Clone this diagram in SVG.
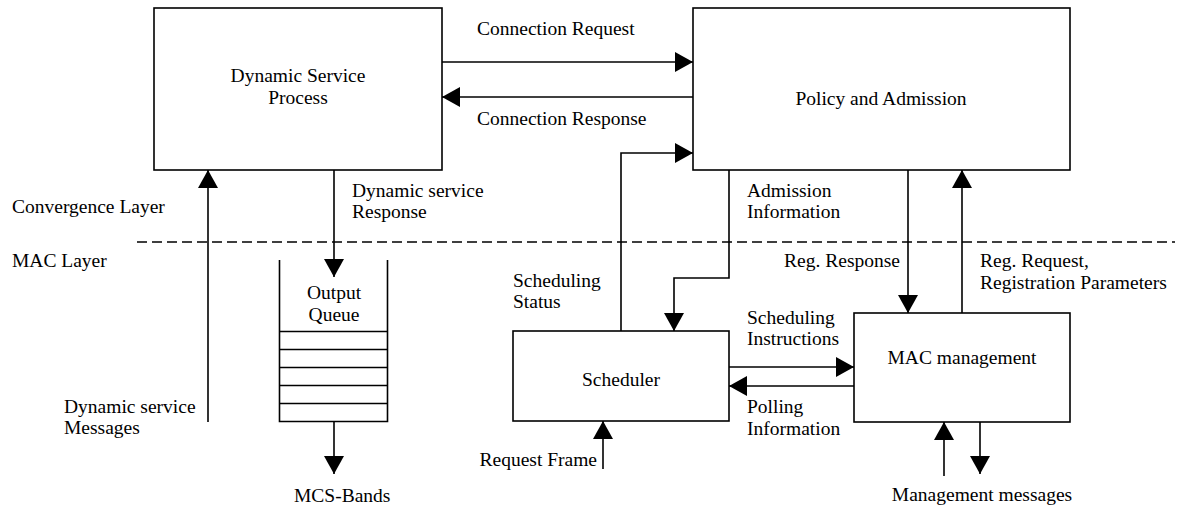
<svg xmlns="http://www.w3.org/2000/svg" width="1181" height="508" viewBox="0 0 1181 508">
  <style>
    text { font-family: "Liberation Serif", "Times New Roman", serif; font-size: 19.5px; fill: #000; }
    .box { fill: #fff; stroke: #000; stroke-width: 1.6; }
    .line { fill: none; stroke: #000; stroke-width: 1.6; }
    .arrow { fill: none; stroke: #000; stroke-width: 1.6; marker-end: url(#head); }
    .mid { text-anchor: middle; }
    .end { text-anchor: end; }
  </style>
  <defs>
    <marker id="head" markerUnits="userSpaceOnUse" markerWidth="18" markerHeight="20" refX="18" refY="10" orient="auto">
      <path d="M0,0 L18,10 L0,20 z" fill="#000"/>
    </marker>
  </defs>

  <rect width="1181" height="508" fill="#fff"/>

  <!-- layer boundary -->
  <line x1="137" y1="242" x2="1175" y2="242" stroke="#000" stroke-width="1.6" stroke-dasharray="10,5"/>
  <text x="12" y="213">Convergence Layer</text>
  <text x="12" y="267">MAC Layer</text>

  <g id="dynamic-service-process">
    <rect class="box" x="154" y="8" width="288" height="162"/>
    <text class="mid" x="298" y="82">Dynamic Service</text>
    <text class="mid" x="298" y="104">Process</text>
  </g>

  <g id="policy-admission">
    <rect class="box" x="693" y="8" width="377" height="162"/>
    <text class="mid" x="881" y="105">Policy and Admission</text>
  </g>

  <g id="output-queue">
    <path class="line" d="M279.5,260 V421.5 H387.5 V260"/>
    <path class="line" d="M279.5,331.5 H387.5 M279.5,349.5 H387.5 M279.5,367.5 H387.5 M279.5,385.5 H387.5 M279.5,403.5 H387.5"/>
    <text class="mid" x="334" y="299">Output</text>
    <text class="mid" x="334" y="321">Queue</text>
  </g>

  <g id="scheduler">
    <rect class="box" x="513" y="331" width="216" height="90"/>
    <text class="mid" x="621" y="386">Scheduler</text>
  </g>

  <g id="mac-management">
    <rect class="box" x="854" y="313" width="216" height="109"/>
    <text class="mid" x="962" y="364">MAC management</text>
  </g>

  <g id="connectors">
    <!-- Dynamic Service Process <-> Policy and Admission -->
    <line class="arrow" x1="442" y1="62" x2="693" y2="62"/>
    <line class="arrow" x1="693" y1="97" x2="442" y2="97"/>
    <!-- Dynamic service messages up into the process -->
    <line class="arrow" x1="208" y1="422" x2="208" y2="170"/>
    <!-- Dynamic service response into the output queue -->
    <line class="arrow" x1="334" y1="170" x2="334" y2="277"/>
    <!-- Output queue to MCS bands -->
    <line class="arrow" x1="334" y1="421.5" x2="334" y2="474"/>
    <!-- Scheduling status -->
    <polyline class="arrow" points="621,331 621,153 693,153"/>
    <!-- Admission information -->
    <polyline class="arrow" points="729,170 729,278 674,278 674,331"/>
    <!-- Registration -->
    <line class="arrow" x1="908" y1="170" x2="908" y2="313"/>
    <line class="arrow" x1="962" y1="313" x2="962" y2="170"/>
    <!-- Scheduler <-> MAC management -->
    <line class="arrow" x1="729" y1="367" x2="854" y2="367"/>
    <line class="arrow" x1="854" y1="386" x2="729" y2="386"/>
    <!-- Request frame -->
    <line class="arrow" x1="603" y1="469" x2="603" y2="421"/>
    <!-- Management messages -->
    <line class="arrow" x1="944" y1="476" x2="944" y2="422"/>
    <line class="arrow" x1="980" y1="422" x2="980" y2="474"/>
  </g>

  <g id="labels">
    <text x="477" y="35">Connection Request</text>
    <text x="477" y="125">Connection Response</text>
    <text x="352" y="197">Dynamic service</text>
    <text x="352" y="218">Response</text>
    <text x="747" y="197">Admission</text>
    <text x="747" y="218">Information</text>
    <text x="64" y="413">Dynamic service</text>
    <text x="64" y="434">Messages</text>
    <text x="294" y="502">MCS-Bands</text>
    <text x="513" y="287">Scheduling</text>
    <text x="513" y="308">Status</text>
    <text x="747" y="324">Scheduling</text>
    <text x="747" y="345">Instructions</text>
    <text x="747" y="413">Polling</text>
    <text x="747" y="435">Information</text>
    <text class="end" x="597" y="466">Request Frame</text>
    <text class="end" x="900" y="267">Reg. Response</text>
    <text x="980" y="267">Reg. Request,</text>
    <text x="980" y="289">Registration Parameters</text>
    <text class="mid" x="982" y="501">Management messages</text>
  </g>
</svg>
